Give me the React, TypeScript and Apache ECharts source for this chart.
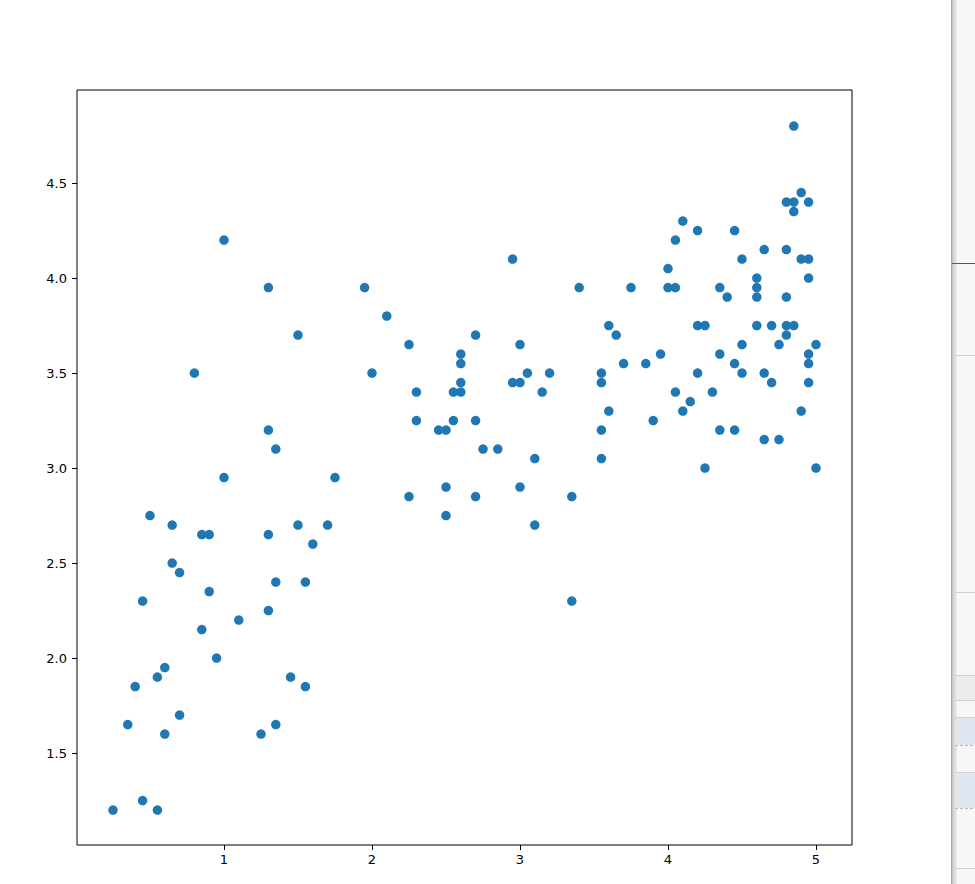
import React, { useEffect, useRef } from "react";
import * as echarts from "echarts";

// Left cluster (x, y)
const leftGroup: [number, number][] = [
  [0.25, 1.2], [0.35, 1.65], [0.4, 1.85], [0.45, 1.25], [0.45, 2.3], [0.5, 2.75],
  [0.55, 1.9], [0.55, 1.2], [0.6, 1.6], [0.6, 1.95], [0.65, 2.7], [0.65, 2.5],
  [0.7, 2.45], [0.7, 1.7], [0.8, 3.5], [0.85, 2.65], [0.85, 2.15], [0.9, 2.65],
  [0.9, 2.35], [0.95, 2.0], [1.0, 4.2], [1.0, 2.95], [1.1, 2.2], [1.25, 1.6],
  [1.3, 3.95], [1.3, 3.2], [1.3, 2.65], [1.3, 2.25], [1.35, 3.1], [1.35, 2.4],
  [1.35, 1.65], [1.45, 1.9], [1.5, 3.7], [1.5, 2.7], [1.55, 2.4], [1.55, 1.85],
  [1.6, 2.6], [1.7, 2.7], [1.75, 2.95],
];

// Middle cluster (x, y)
const middleGroup: [number, number][] = [
  [2.95, 4.1], [1.95, 3.95], [3.4, 3.95], [2.1, 3.8], [2.25, 3.65], [2.7, 3.7],
  [3.0, 3.65], [2.6, 3.6], [2.6, 3.55], [2.0, 3.5], [2.6, 3.45], [3.05, 3.5],
  [3.2, 3.5], [2.95, 3.45], [3.0, 3.45], [2.3, 3.4], [2.55, 3.4], [2.6, 3.4],
  [3.15, 3.4], [2.3, 3.25], [2.55, 3.25], [2.7, 3.25], [2.45, 3.2], [2.5, 3.2],
  [2.75, 3.1], [2.85, 3.1], [3.1, 3.05], [2.25, 2.85], [2.5, 2.9], [2.7, 2.85],
  [3.0, 2.9], [3.35, 2.85], [2.5, 2.75], [3.1, 2.7], [3.35, 2.3],
];

// Right cluster (x, y)
const rightGroup: [number, number][] = [
  [4.85, 4.8], [4.9, 4.45], [4.8, 4.4], [4.85, 4.4], [4.95, 4.4], [4.85, 4.35],
  [4.1, 4.3], [4.2, 4.25], [4.45, 4.25], [4.05, 4.2], [4.65, 4.15], [4.8, 4.15],
  [4.5, 4.1], [4.9, 4.1], [4.95, 4.1], [4.0, 4.05], [4.6, 4.0], [4.95, 4.0],
  [3.75, 3.95], [4.0, 3.95], [4.05, 3.95], [4.35, 3.95], [4.6, 3.95], [4.4, 3.9],
  [4.6, 3.9], [4.8, 3.9], [3.6, 3.75], [3.65, 3.7], [4.2, 3.75], [4.25, 3.75],
  [4.6, 3.75], [4.7, 3.75], [4.8, 3.75], [4.85, 3.75], [4.8, 3.7], [4.5, 3.65],
  [4.75, 3.65], [5.0, 3.65], [3.95, 3.6], [4.35, 3.6], [4.95, 3.6], [3.7, 3.55],
  [3.85, 3.55], [4.45, 3.55], [4.95, 3.55], [3.55, 3.5], [3.55, 3.45], [4.2, 3.5],
  [4.5, 3.5], [4.65, 3.5], [4.7, 3.45], [4.95, 3.45], [4.05, 3.4], [4.3, 3.4],
  [4.15, 3.35], [3.6, 3.3], [4.1, 3.3], [4.9, 3.3], [3.9, 3.25], [3.55, 3.2],
  [4.35, 3.2], [4.45, 3.2], [4.65, 3.15], [4.75, 3.15], [3.55, 3.05], [4.25, 3.0],
  [5.0, 3.0],
];

const xTickValues = [1, 2, 3, 4, 5];
const yTickValues = [1.5, 2.0, 2.5, 3.0, 3.5, 4.0, 4.5];

export default function App() {
  const ref = useRef<HTMLDivElement>(null);

  useEffect(() => {
    if (!ref.current) return;
    const chart = echarts.init(ref.current, null, { renderer: "svg" });
    const allPoints = [...leftGroup, ...middleGroup, ...rightGroup];
    const font = "DejaVu Sans";

    const stripLines = [355, 592, 675, 700, 717, 772, 868];
    const dashedLines = [745, 808];

    chart.setOption({
      animation: false,
      backgroundColor: "#ffffff",
      grid: {
        left: 77,
        top: 90,
        width: 775,
        height: 755,
        show: true,
        borderColor: "#000000",
        borderWidth: 1,
        backgroundColor: "transparent",
      },
      xAxis: {
        type: "value",
        min: 0.0068,
        max: 5.2432,
        axisLine: { show: false },
        splitLine: { show: false },
        axisTick: {
          show: true,
          length: 5,
          customValues: xTickValues,
          lineStyle: { color: "#000000", width: 1 },
        },
        axisLabel: {
          customValues: xTickValues,
          formatter: (v: number) => String(v),
          color: "#000000",
          fontFamily: font,
          fontSize: 13,
          margin: 8,
        },
      },
      yAxis: {
        type: "value",
        min: 1.016,
        max: 4.99,
        axisLine: { show: false },
        splitLine: { show: false },
        axisTick: {
          show: true,
          length: 5,
          customValues: yTickValues,
          lineStyle: { color: "#000000", width: 1 },
        },
        axisLabel: {
          customValues: yTickValues,
          formatter: (v: number) => v.toFixed(1),
          color: "#000000",
          fontFamily: font,
          fontSize: 13,
          margin: 10,
        },
      },
      series: [
        {
          type: "scatter",
          data: allPoints,
          symbol: "circle",
          symbolSize: 9.5,
          itemStyle: { color: "#1f77b4", opacity: 1 },
        },
      ],
      graphic: [
        {
          type: "rect",
          shape: { x: 955, y: 0, width: 20, height: 884 },
          style: { fill: "#f7f7f7" },
          silent: true,
        },
        {
          type: "rect",
          shape: { x: 955, y: 675, width: 20, height: 25 },
          style: { fill: "#ececec" },
          silent: true,
        },
        {
          type: "rect",
          shape: { x: 955, y: 717, width: 20, height: 28 },
          style: { fill: "#dfe6ef" },
          silent: true,
        },
        {
          type: "rect",
          shape: { x: 955, y: 772, width: 20, height: 36 },
          style: { fill: "#dfe6ef" },
          silent: true,
        },
        {
          type: "rect",
          shape: { x: 951, y: 0, width: 6, height: 884 },
          style: {
            fill: new echarts.graphic.LinearGradient(0, 0, 1, 0, [
              { offset: 0, color: "#9a9a9a" },
              { offset: 0.3, color: "#cfcfcf" },
              { offset: 1, color: "#ececec" },
            ]),
          },
          silent: true,
        },
        {
          type: "line",
          shape: { x1: 952, y1: 263.5, x2: 975, y2: 263.5 },
          style: { stroke: "#5a5a5a", lineWidth: 1 },
          silent: true,
        },
        ...stripLines.map((y) => ({
          type: "line",
          shape: { x1: 955, y1: y + 0.5, x2: 975, y2: y + 0.5 },
          style: { stroke: "#d0d0d0", lineWidth: 1 },
          silent: true,
        })),
        ...dashedLines.map((y) => ({
          type: "line",
          shape: { x1: 955, y1: y + 0.5, x2: 975, y2: y + 0.5 },
          style: { stroke: "#b8b8b8", lineWidth: 1, lineDash: [3, 2] },
          silent: true,
        })),
      ],
    });

    return () => chart.dispose();
  }, []);

  return (
    <div
      ref={ref}
      style={{ position: "fixed", left: 0, top: 0, width: 975, height: 884 }}
    />
  );
}
